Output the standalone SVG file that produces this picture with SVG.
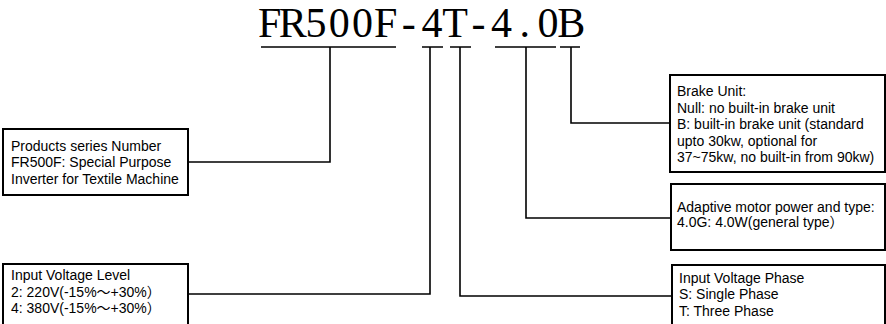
<svg xmlns="http://www.w3.org/2000/svg" width="886" height="324" viewBox="0 0 886 324">
<style>
.bg{fill:#fff}
.box{fill:#fff;stroke:#000;stroke-width:2}
.ln{fill:none;stroke:#000;stroke-width:1.6}
.t{font-family:"Liberation Sans","Noto Sans CJK SC",Arial,sans-serif;font-size:14px;fill:#000}
.title{font-family:"Liberation Serif","Noto Sans CJK SC",serif;font-size:42px;fill:#000}
</style>
<rect class="bg" x="0" y="0" width="886" height="324"/>
<g id="title">
<text class="title" y="37" text-anchor="middle" x="269.6 292.8 316.0 339.2 362.4 385.6 408.8 432.0 455.2 478.4 501.6 524.8 548.0 571.2">FR500F-4T-4.0B</text>
<path class="ln" d="M261 47H396M422 47H443M450 47H471M495 47H556M560 47H580"/>
</g>
<g id="connectors">
<path class="ln" d="M330 47V162H188"/>
<path class="ln" d="M430 47V294H188"/>
<path class="ln" d="M460 47V296H672"/>
<path class="ln" d="M526 47V218H671"/>
<path class="ln" d="M571 47V123H670"/>
</g>
<g id="series">
<rect class="box" x="3" y="129" width="185" height="66"/>
<text class="t" x="11" y="150.5">Products series Number</text>
<text class="t" x="11" y="167">FR500F: Special Purpose</text>
<text class="t" x="11" y="183.5">Inverter for Textile Machine</text>
</g>
<g id="voltage-level">
<rect class="box" x="3" y="264" width="185" height="70"/>
<text class="t" x="11" y="280">Input Voltage Level</text>
<text class="t" x="11" y="296.5">2: 220V(-15%～+30%）</text>
<text class="t" x="11" y="313">4: 380V(-15%～+30%）</text>
</g>
<g id="brake">
<rect class="box" x="670" y="75" width="215" height="97"/>
<text class="t" x="677" y="96">Brake Unit:</text>
<text class="t" x="677" y="112.5">Null: no built-in brake unit</text>
<text class="t" x="677" y="129">B: built-in brake unit (standard</text>
<text class="t" x="677" y="145.5">upto 30kw, optional for</text>
<text class="t" x="677" y="162">37~75kw, no built-in from 90kw)</text>
</g>
<g id="motor">
<rect class="box" x="671" y="184" width="214" height="66"/>
<text class="t" x="677" y="212">Adaptive motor power and type:</text>
<text class="t" x="677" y="227">4.0G: 4.0W(general type）</text>
</g>
<g id="phase">
<rect class="box" x="672" y="265" width="213" height="70"/>
<text class="t" x="679" y="282.5">Input Voltage Phase</text>
<text class="t" x="679" y="299">S: Single Phase</text>
<text class="t" x="679" y="315.5">T: Three Phase</text>
</g>
</svg>
